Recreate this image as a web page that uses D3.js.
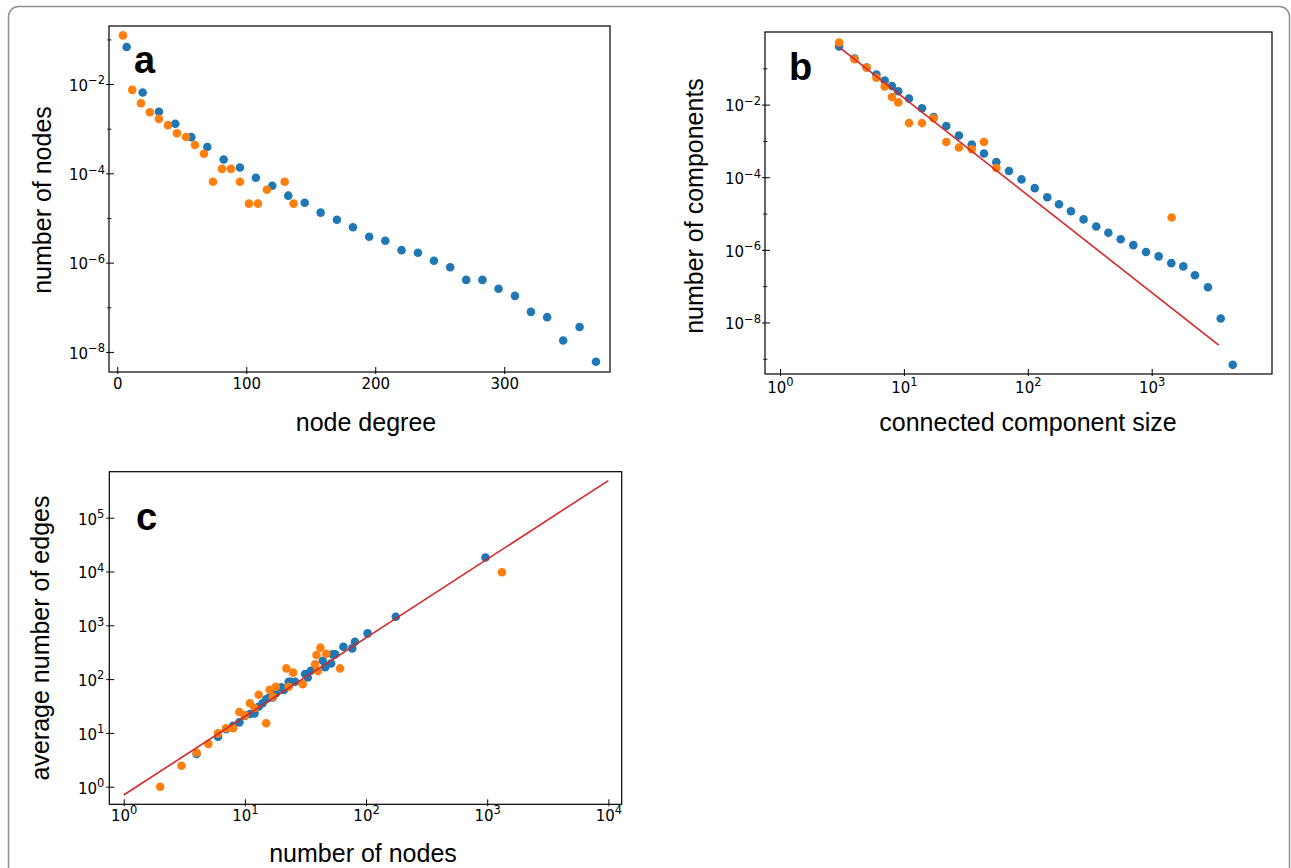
<!DOCTYPE html>
<html lang="en">
<head>
  <meta charset="UTF-8" />
  <title>Degree and component distributions</title>
  <script src="https://d3js.org/d3.v7.min.js"></script>
  <style>
    body {
      margin: 0;
      padding: 0;
      background-color: #fff;
    }

    svg {
      display: block;
    }

    .tick text {
      font-family: "DejaVu Sans", sans-serif;
      font-size: 15px;
    }

    .axis-label {
      font-family: "Liberation Sans", Arial, sans-serif;
      font-size: 25px;
      fill: #000;
    }

    .panel-label {
      font-family: "Liberation Sans", Arial, sans-serif;
      font-size: 38px;
      font-weight: bold;
      fill: #000;
    }
  </style>
</head>
<body>
  <svg width="1291" height="868"></svg>

  <script>
    const blue = "#1f77b4";
    const orange = "#ff7f0e";
    const red = "#d62728";

    // a: node degree distribution
    const degreeBlue = [7.3, 19.7, 32.3, 45, 57.4, 69.8, 82.5, 95.1, 107.5, 120.2, 132.6, 145.3, 157.7, 170.3, 182.7,
      195.3, 207.8, 220.4, 233.1, 245.5, 258.1, 270.5, 283.1, 295.6, 308.3, 320.7, 333.3, 345.7, 358.4, 371.1];
    const nodesBlue = [0.0676, 0.00646, 0.0024, 0.00129, 6.46e-4, 3.89e-4, 2.04e-4, 1.35e-4, 7.94e-5, 5.25e-5, 3.16e-5,
      2.19e-5, 1.32e-5, 9.1e-6, 6.2e-6, 3.8e-6, 3.1e-6, 1.9e-6, 1.66e-6, 1.1e-6, 7.9e-7, 4.1e-7, 4.1e-7, 2.6e-7,
      1.8e-7, 7.9e-8, 6.0e-8, 1.8e-8, 3.6e-8, 6.0e-9];
    const degreeOrange = [4.4, 11.6, 18.4, 25.3, 32.3, 39.3, 46.3, 53.3, 60.2, 67.2, 74.2, 81.2, 88.1, 95.1, 102.1,
      109.1, 116, 129.8, 136.7];
    const nodesOrange = [0.123, 0.00741, 0.00372, 0.00234, 0.00166, 0.0012, 7.9e-4, 6.5e-4, 4.3e-4, 2.75e-4, 6.5e-5,
      1.26e-4, 1.26e-4, 6.5e-5, 2.1e-5, 2.1e-5, 4.3e-5, 6.5e-5, 2.1e-5];

    // b: connected component size distribution
    const sizeBlue = [3, 4, 5, 6, 7, 8, 9, 11, 14, 17.4, 22, 27.8, 35.3, 44.3, 55.7, 70.5, 89, 113.8, 143.5, 178.6,
      223, 282, 357, 447, 562, 711, 899, 1138, 1439, 1799, 2234, 2844, 3606, 4508];
    const compBlue = [0.398, 0.186, 0.105, 0.0676, 0.0457, 0.0324, 0.0234, 0.0148, 0.00794, 0.00457, 0.00257, 0.00141,
      7.9e-4, 4.5e-4, 2.6e-4, 1.48e-4, 8.7e-5, 5.0e-5, 2.8e-5, 1.8e-5, 1.15e-5, 6.9e-6, 4.4e-6, 2.95e-6, 1.95e-6,
      1.35e-6, 8.7e-7, 6.6e-7, 4.3e-7, 3.5e-7, 2.0e-7, 9.3e-8, 1.29e-8, 6.8e-10];
    const sizeOrange = [3, 4, 5, 6, 7, 8, 9, 11, 14, 17.4, 22, 27.8, 35.3, 44.3, 55.7, 1449];
    const compOrange = [0.513, 0.178, 0.105, 0.055, 0.0316, 0.0162, 0.0115, 0.0031, 0.0031, 0.0042, 9.3e-4, 6.6e-4,
      5.9e-4, 9.3e-4, 1.8e-4, 7.8e-6];
    const fitSizeB = [3, 3475];
    const fitCompB = [0.385, 2.37e-9];

    // c: edges vs nodes per component
    const nodesCBlue = [4, 6, 7, 8, 9, 10, 11, 12, 13, 14, 15, 16, 17, 18, 20, 21, 23, 24, 26, 31.4, 33, 35, 44, 46,
      51.5, 53, 55.6, 65, 77, 81, 103, 176, 968];
    const edgesCBlue = [4.06, 8.5, 11.7, 13.6, 15.7, 20.6, 22.4, 23.1, 30.7, 35.5, 42.1, 45.7, 45.7, 54.5, 70.3, 63.1,
      89.1, 89.1, 89.1, 124, 107, 143, 219, 166, 195, 288, 288, 398, 372, 495, 708, 1445, 18200];
    const nodesCOrange = [2, 3, 4, 5, 6, 7, 8, 9, 10, 11, 12, 13, 15, 16, 17, 18, 22, 23, 25, 30, 38, 39, 40, 42, 47,
      61, 1322];
    const edgesCOrange = [1, 2.45, 4.27, 6.2, 9.8, 12.2, 12.2, 24.5, 21.2, 35.5, 29, 51.3, 15.1, 63.5, 47.1, 72.3, 158,
      72.3, 132, 80, 188, 281, 141, 384, 295, 158, 9660];
    const fitNodesC = [1, 10000];
    const fitEdgesC = [0.70, 4.9e5];

    // tick values
    const ticksA_x = [0, 100, 200, 300];
    const ticksA_y = [1e-2, 1e-4, 1e-6, 1e-8];
    const minorA_y = [1e-1, 1e-3, 1e-5, 1e-7];
    const ticksB_x = [1, 10, 100, 1000];
    const ticksB_y = [1e-2, 1e-4, 1e-6, 1e-8];
    const minorB_y = [1e-1, 1e-3, 1e-5, 1e-7, 1e-9];
    const ticksC_x = [1, 10, 100, 1000, 10000];
    const ticksC_y = [1, 10, 100, 1000, 1e4, 1e5];

    const svg = d3.select("svg");

    // outer figure border
    svg.append("rect")
      .attr("x", 8.5).attr("y", 6.5)
      .attr("width", 1281).attr("height", 900)
      .attr("rx", 10)
      .attr("fill", "none")
      .attr("stroke", "#8f8f8f")
      .attr("stroke-width", 1.5);

    function supLabels(g) {
      g.selectAll(".tick text").each(function(d) {
        const t = d3.select(this);
        const e = Math.round(Math.log10(d));
        t.text(null);
        t.append("tspan").text("10");
        t.append("tspan")
          .attr("dy", -6.5)
          .style("font-size", "11.5px")
          .text(e < 0 ? "\u2212" + (-e) : String(e));
      });
    }

    function panel(p) {
      const g = svg.append("g");
      const [x0, x1] = p.x.range();
      const [y1, y0] = p.y.range();

      p.series.forEach(s => {
        g.append("g").selectAll("circle")
          .data(d3.zip(s.xs, s.ys))
          .join("circle")
          .attr("cx", d => p.x(d[0]))
          .attr("cy", d => p.y(d[1]))
          .attr("r", 4.3)
          .attr("fill", s.color);
      });

      if (p.fit) {
        g.append("path")
          .datum(d3.zip(p.fit[0], p.fit[1]))
          .attr("d", d3.line().x(d => p.x(d[0])).y(d => p.y(d[1])))
          .attr("fill", "none")
          .attr("stroke", red)
          .attr("stroke-width", 1.6);
      }

      g.append("rect")
        .attr("x", x0).attr("y", y0)
        .attr("width", x1 - x0).attr("height", y1 - y0)
        .attr("fill", "none")
        .attr("stroke", "#000")
        .attr("stroke-width", 1.2);

      // x axis
      const gx = g.append("g")
        .attr("transform", `translate(0,${y1})`)
        .call(d3.axisBottom(p.x).tickValues(p.xTicks).tickSizeInner(-5).tickSizeOuter(0)
          .tickPadding(p.xPad).tickFormat(p.xLog ? d => d : d3.format("d")));
      gx.select(".domain").remove();
      gx.selectAll(".tick line").attr("y1", 2).attr("stroke-width", 1);
      if (p.xLog) {
        supLabels(gx);
        gx.selectAll(".tick text").attr("dy", "1.1em");
      }

      // y axis
      const gy = g.append("g")
        .attr("transform", `translate(${x0},0)`)
        .call(d3.axisLeft(p.y).tickValues(p.yTicks).tickSizeInner(-5).tickSizeOuter(0)
          .tickPadding(p.yPad).tickFormat(d => d));
      gy.select(".domain").remove();
      gy.selectAll(".tick line").attr("x1", -3).attr("stroke-width", 1);
      supLabels(gy);
      gy.selectAll(".tick text").attr("dy", "0.42em");

      if (p.yMinor) {
        const gm = g.append("g")
          .attr("transform", `translate(${x0},0)`)
          .call(d3.axisLeft(p.y).tickValues(p.yMinor).tickSizeInner(-2.5).tickSizeOuter(0).tickFormat(""));
        gm.select(".domain").remove();
        gm.selectAll(".tick line").attr("x1", -2).attr("stroke-width", 0.8);
      }

      g.append("text")
        .attr("class", "axis-label")
        .attr("x", p.xLabelPos[0]).attr("y", p.xLabelPos[1])
        .attr("text-anchor", "middle")
        .text(p.xLabel);

      g.append("text")
        .attr("class", "axis-label")
        .attr("transform", `translate(${p.yLabelPos[0]},${p.yLabelPos[1]}) rotate(-90)`)
        .attr("text-anchor", "middle")
        .text(p.yLabel);

      g.append("text")
        .attr("class", "panel-label")
        .attr("x", p.tag[1]).attr("y", p.tag[2])
        .text(p.tag[0]);
    }

    panel({
      x: d3.scaleLinear().domain([-6.4, 382]).range([109, 610]),
      y: d3.scaleLog().domain([Math.pow(10, -8.45), Math.pow(10, -0.70)]).range([372, 26]),
      series: [
        { xs: degreeBlue, ys: nodesBlue, color: blue },
        { xs: degreeOrange, ys: nodesOrange, color: orange }
      ],
      xTicks: ticksA_x, yTicks: ticksA_y, yMinor: minorA_y,
      xLog: false, xPad: 6, yPad: 4,
      xLabel: "node degree", xLabelPos: [366, 431],
      yLabel: "number of nodes", yLabelPos: [51, 200],
      tag: ["a", 134, 73]
    });

    panel({
      x: d3.scaleLog().domain([Math.pow(10, -0.121), Math.pow(10, 3.971)]).range([765, 1272]),
      y: d3.scaleLog().domain([Math.pow(10, -9.42), 1]).range([374, 32]),
      series: [
        { xs: sizeBlue, ys: compBlue, color: blue },
        { xs: sizeOrange, ys: compOrange, color: orange }
      ],
      fit: [fitSizeB, fitCompB],
      xTicks: ticksB_x, yTicks: ticksB_y, yMinor: minorB_y,
      xLog: true, xPad: 2, yPad: 4,
      xLabel: "connected component size", xLabelPos: [1028, 431],
      yLabel: "number of components", yLabelPos: [703, 206],
      tag: ["b", 789, 80]
    });

    panel({
      x: d3.scaleLog().domain([Math.pow(10, -0.119), Math.pow(10, 4.11)]).range([109.3, 621.7]),
      y: d3.scaleLog().domain([Math.pow(10, -0.327), Math.pow(10, 5.855)]).range([804.3, 471.7]),
      series: [
        { xs: nodesCBlue, ys: edgesCBlue, color: blue },
        { xs: nodesCOrange, ys: edgesCOrange, color: orange }
      ],
      fit: [fitNodesC, fitEdgesC],
      xTicks: ticksC_x, yTicks: ticksC_y,
      xLog: true, xPad: 0, yPad: 5,
      xLabel: "number of nodes", xLabelPos: [363, 862],
      yLabel: "average number of edges", yLabelPos: [49, 638],
      tag: ["c", 136, 530]
    });
  </script>
</body>
</html>
